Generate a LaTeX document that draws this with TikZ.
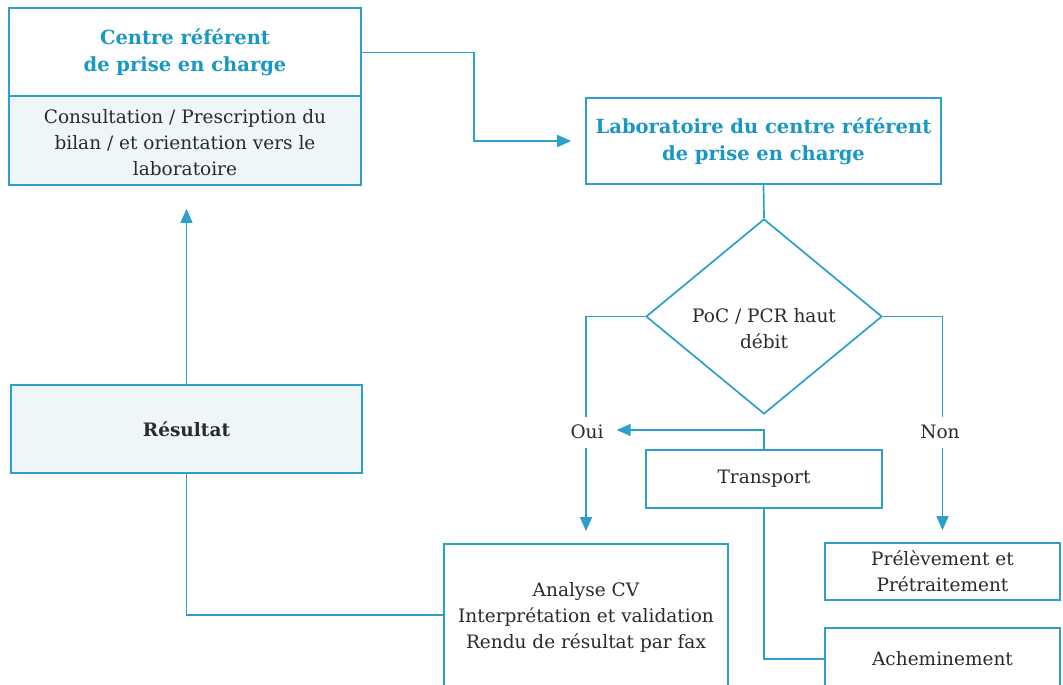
\documentclass[tikz,border=0pt]{standalone}
\usepackage{fontspec}
\setmainfont{DejaVu Serif}
\usetikzlibrary{arrows.meta,shapes.geometric}
\definecolor{lc}{HTML}{2C9FCB}
\definecolor{tc}{HTML}{1A97C5}
\definecolor{fl}{HTML}{EEF6FA}
\definecolor{tx}{HTML}{2A2A2A}
\tikzset{
  box/.style={draw=lc, line width=1.7pt, rectangle, inner sep=0pt, align=center, text=tx, font=\fontsize{18.5}{26}\selectfont},
  ttl/.style={box, text=tc, font=\bfseries\fontsize{19.5}{27}\selectfont},
  conn/.style={draw=lc, line width=1.7pt},
  arr/.style={conn, -{Triangle[length=14pt,width=12pt]}},
  lbl/.style={text=tx, font=\fontsize{18.5}{26}\selectfont, inner sep=0pt}
}
\begin{document}
\begin{tikzpicture}[x=1pt,y=-1pt]
\clip (0,0) rectangle (1063,685);
\fill[white] (0,0) rectangle (1063,685);
% Centre référent
\node[ttl, minimum width=352pt, minimum height=89pt] (Atop) at (185,52.5) {Centre référent\\de prise en charge};
\node[box, fill=fl, minimum width=352pt, minimum height=89pt] (Abot) at (185,140.5) {\strut Consultation / Prescription du\\bilan / et orientation vers le\\laboratoire};
% Laboratoire
\node[ttl, minimum width=355pt, minimum height=86pt] (B) at (763.5,141) {Laboratoire du centre référent\\de prise en charge};
% Diamond
\node[draw=lc, line width=1.7pt, diamond, minimum width=236pt, minimum height=195pt, inner sep=0pt] (D) at (764,316.5) {};
\node[lbl, align=center] (Dt) at (764,329) {PoC / PCR haut\\débit};
% Labels
\node[lbl] (oui) at (587,432) {Oui};
\node[lbl] (non) at (940,432) {Non};
% Transport
\node[box, minimum width=236pt, minimum height=58pt] (T) at (764,479) {\raisebox{-3pt}{Transport}};
% Résultat
\node[box, fill=fl, minimum width=351pt, minimum height=88pt, font=\bfseries\fontsize{18.5}{26}\selectfont] (R) at (186.5,429) {\raisebox{-2pt}{Résultat}};
% Analyse
\node[box, minimum width=284pt, minimum height=142pt] (An) at (586,615) {\strut Analyse CV\\Interprétation et validation\\Rendu de résultat par fax};
% Prélèvement
\node[box, minimum width=235pt, minimum height=57pt] (P) at (942.5,571.5) {Prélèvement et\\Prétraitement};
% Acheminement
\node[box, minimum width=235pt, minimum height=62pt] (Ac) at (942.5,659) {Acheminement};
% Connectors
\draw[arr] (Atop.east) -- ++(112,0) |- ([xshift=-14pt]B.west);
\draw[conn] (B.south) -- (D.north);
\draw[conn] (D.west) -| ([yshift=8pt]oui.north -| An.north);
\draw[arr] ([yshift=-9pt]oui.south -| An.north) -- ([yshift=12pt]An.north);
\draw[conn] (D.east) -| ([yshift=8pt]non.north -| P.north);
\draw[arr] ([yshift=-9pt]non.south -| P.north) -- ([yshift=12pt]P.north);
\draw[arr] (T.north) |- ([xshift=13pt,yshift=2pt]oui.east);
\draw[conn] (T.south) |- (Ac.west);
\draw[arr] (R.north) -- ([yshift=-23pt]Abot.south -| R.north);
\draw[conn] (R.south) |- (An.west);
\end{tikzpicture}
\end{document}
